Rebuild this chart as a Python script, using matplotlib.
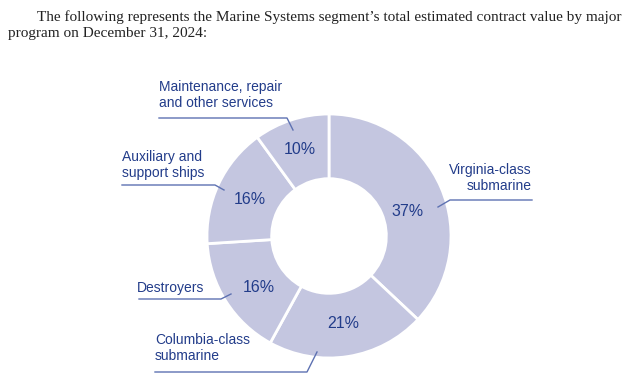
import matplotlib.pyplot as plt

# contract value share by program, clockwise from 12 o'clock
programs = ['Virginia-class\nsubmarine', 'Columbia-class\nsubmarine', 'Destroyers',
            'Auxiliary and\nsupport ships', 'Maintenance, repair\nand other services']
shares = [37, 21, 16, 16, 10]
pct_labels = ['37%', '21%', '16%', '16%', '10%']

FILL = '#c4c6e0'
TEXT = '#223c8a'
LINE = '#5e72b2'

fig = plt.figure(figsize=(6.4, 3.78), dpi=100)
ax = fig.add_axes([0, 0, 1, 1])

H = 378
cx, cy, r = 329, H - 236, 122

ax.pie(shares, startangle=90, counterclock=False, center=(cx, cy), radius=r,
       colors=[FILL] * len(shares),
       wedgeprops=dict(width=r * 0.53, edgecolor='white', linewidth=2),
       frame=True)
ax.set_xlim(0, 640)
ax.set_ylim(0, 378)
ax.set_aspect('equal')
ax.axis('off')

# percent labels (pixel positions)
pct_pos = [(408, 212), (343, 324), (259, 287), (250, 200), (300, 149)]
for txt, (x, y) in zip(pct_labels, pct_pos):
    ax.text(x, H - y, txt, ha='center', va='center', fontsize=11.5,
            color=TEXT, family='Liberation Sans')

# category labels with leader lines
label_specs = [
    # text, x, y (top of text), ha, leader path in pixels
    (programs[0], 532, 163, 'right', [(532, 200), (450, 200), (438, 207)]),
    (programs[1], 155, 333, 'left', [(155, 372), (307, 372), (317, 352)]),
    (programs[2], 137, 281, 'left', [(139, 299), (221, 299), (231, 294)]),
    (programs[3], 122, 150, 'left', [(122, 185), (215, 185), (224, 190)]),
    (programs[4], 159, 80, 'left', [(159, 118), (287, 118), (293, 130)]),
]
for txt, x, y, ha, path in label_specs:
    ax.text(x, H - y, txt, ha=ha, va='top', fontsize=10, color=TEXT,
            family='Liberation Sans', linespacing=1.15,
            multialignment=ha)
    xs = [p[0] for p in path]
    ys = [H - p[1] for p in path]
    ax.plot(xs, ys, color=LINE, lw=1)

fig.text(37 / 640, 1 - 17 / H,
         'The following represents the Marine Systems segment\u2019s total estimated contract value by major',
         ha='left', va='center', fontsize=11.0, family='Liberation Serif', color='#222222')
fig.text(8 / 640, 1 - 34 / H, 'program on December 31, 2024:',
         ha='left', va='center', fontsize=11.0, family='Liberation Serif', color='#222222')

fig.savefig('out.png', dpi=100)
